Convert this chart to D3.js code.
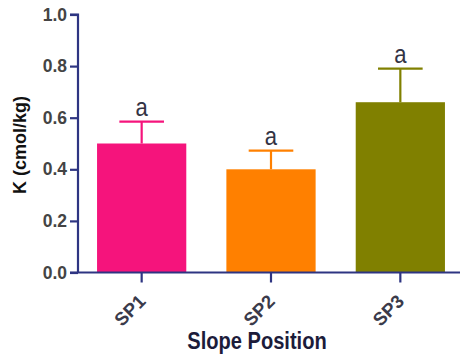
<!DOCTYPE html>
<html>
<head>
<meta charset="utf-8">
<script src="https://cdn.jsdelivr.net/npm/d3@7"></script>
<style>
  html, body { margin: 0; padding: 0; background: #ffffff; }
  svg { display: block; }
  text { font-family: "Liberation Sans", Arial, Helvetica, sans-serif; }
</style>
</head>
<body>
<svg id="chart" width="462" height="358"></svg>
<script>
// Exchangeable potassium by slope position (mean with SEM error bar)
const positions = ["SP1", "SP2", "SP3"];
const kMean = [0.50, 0.40, 0.66];
const kErr = [0.085, 0.072, 0.13];
const groupLetters = ["a", "a", "a"];
const barColors = ["#f5147c", "#ff8000", "#808000"];
const yTicks = [0.0, 0.2, 0.4, 0.6, 0.8, 1.0];

const axisColor = "#2e3582";
const svg = d3.select("#chart");

const x = d3.scaleBand()
  .domain(positions)
  .range([77, 465])
  .paddingInner(0.31)
  .paddingOuter(0.155);

const y = d3.scaleLinear().domain([0, 1]).range([272.5, 14.5]);

const data = positions.map((p, i) => ({
  pos: p, mean: kMean[i], err: kErr[i], letter: groupLetters[i], color: barColors[i]
}));

// bars
svg.append("g").selectAll("rect")
  .data(data).join("rect")
  .attr("x", d => x(d.pos))
  .attr("y", d => y(d.mean))
  .attr("width", x.bandwidth())
  .attr("height", d => y(0) - y(d.mean))
  .attr("fill", d => d.color);

// upper error bars
const eb = svg.append("g").selectAll("g").data(data).join("g")
  .attr("stroke", d => d.color)
  .attr("stroke-width", 2.2);
eb.append("line")
  .attr("x1", d => x(d.pos) + x.bandwidth() / 2)
  .attr("x2", d => x(d.pos) + x.bandwidth() / 2)
  .attr("y1", d => y(d.mean))
  .attr("y2", d => y(d.mean + d.err));
eb.append("line")
  .attr("x1", d => x(d.pos) + x.bandwidth() * 0.25)
  .attr("x2", d => x(d.pos) + x.bandwidth() * 0.75)
  .attr("y1", d => y(d.mean + d.err))
  .attr("y2", d => y(d.mean + d.err));

// significance letters
svg.append("g").selectAll("text")
  .data(data).join("text")
  .attr("text-anchor", "middle")
  .attr("transform", d => `translate(${x(d.pos) + x.bandwidth() / 2},${y(d.mean + d.err) - 6}) scale(1.05,1.2)`)
  .attr("font-size", 21)
  .attr("fill", "#333344")
  .text(d => d.letter);

// y axis
const yAxis = svg.append("g")
  .attr("transform", "translate(78,0)")
  .call(d3.axisLeft(y).tickValues(yTicks).tickFormat(d3.format(".1f")).tickSize(8).tickPadding(3));
yAxis.select(".domain").attr("stroke", axisColor).attr("stroke-width", 2.2).attr("d", `M-8,${y(1)}H0V${y(0)}`);
yAxis.selectAll(".tick line").attr("stroke", axisColor).attr("stroke-width", 2.2);
yAxis.selectAll(".tick text")
  .attr("font-size", 17.5).attr("font-weight", "bold").attr("fill", "#444444")
  .attr("font-family", "'Liberation Sans', Arial, sans-serif");

// x axis
const xAxis = svg.append("g")
  .attr("transform", `translate(0,${y(0)})`)
  .call(d3.axisBottom(x).tickSize(10).tickFormat(""));
xAxis.select(".domain").attr("stroke", axisColor).attr("stroke-width", 2.2).attr("d", `M70,0H460`);
xAxis.selectAll(".tick line").attr("stroke", axisColor).attr("stroke-width", 2.2);

// rotated category labels
svg.append("g").selectAll("text")
  .data(positions).join("text")
  .attr("text-anchor", "end")
  .attr("transform", d => `translate(${x(d) + x.bandwidth() / 2 + 5},${y(0) + 30}) rotate(-45)`)
  .attr("font-size", 18.5)
  .attr("font-weight", "bold")
  .attr("fill", "#3a3a4a")
  .text(d => d);

// axis titles
svg.append("text")
  .attr("text-anchor", "middle")
  .attr("transform", "translate(257,349) scale(1.03,1.18)")
  .attr("font-size", 19.5)
  .attr("font-weight", "bold")
  .attr("fill", "#1c1c3a")
  .text("Slope Position");

svg.append("text")
  .attr("text-anchor", "middle")
  .attr("transform", "translate(26,145) rotate(-90)")
  .attr("font-size", 18)
  .attr("font-weight", "bold")
  .attr("fill", "#111111")
  .text("K (cmol/kg)");
</script>
</body>
</html>
